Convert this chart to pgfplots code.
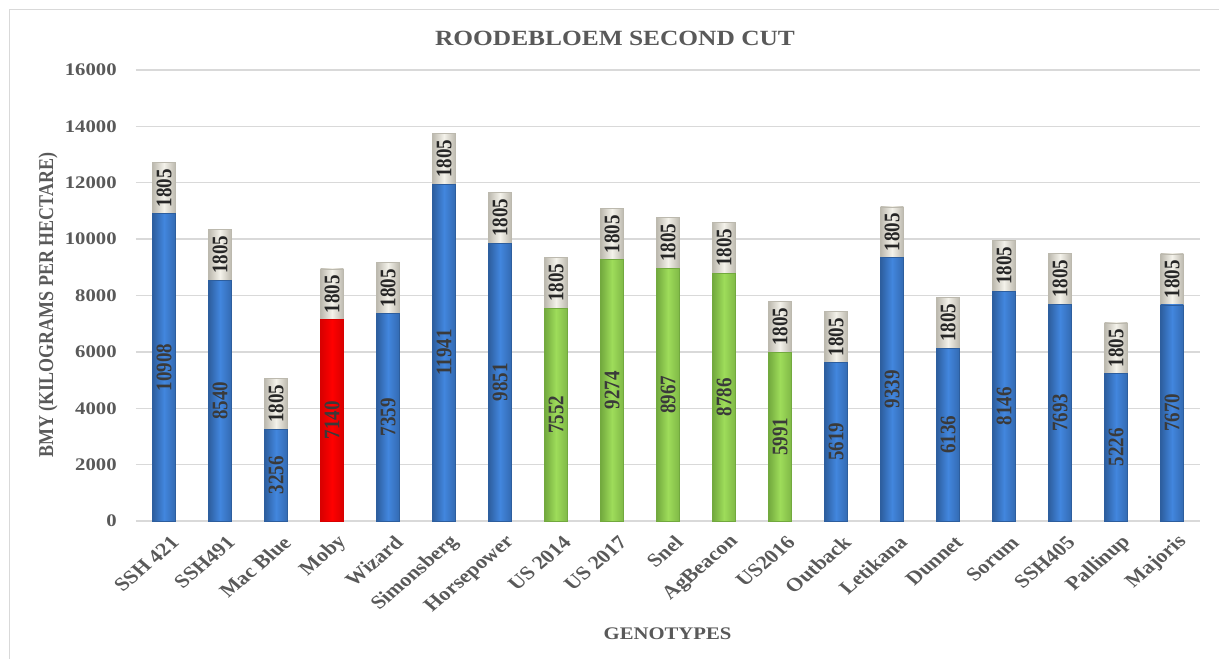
\documentclass[border=0pt]{standalone}
\usepackage{pgfplots}
\pgfplotsset{compat=1.18}
\usepackage{pgfplotstable}
\usepackage{fontspec}
\setmainfont{Liberation Serif}
\definecolor{txt}{HTML}{595959}
\definecolor{gridc}{HTML}{D9D9D9}
\definecolor{frm}{HTML}{D9D9D9}
\definecolor{bluM}{HTML}{4286DE}
\definecolor{bluE}{HTML}{2D5E9E}
\definecolor{grnM}{HTML}{9EDC5A}
\definecolor{grnE}{HTML}{72A93E}
\definecolor{redM}{HTML}{FF0000}
\definecolor{redE}{HTML}{D80000}
\definecolor{begM}{HTML}{F4F2EA}
\definecolor{begE}{HTML}{BCB9AE}
\definecolor{lab}{HTML}{3A3A3A}

\pgfplotstableread{
x v b r g t
0 10908 10908 nan nan 1805
1 8540 8540 nan nan 1805
2 3256 3256 nan nan 1805
3 7140 nan 7140 nan 1805
4 7359 7359 nan nan 1805
5 11941 11941 nan nan 1805
6 9851 9851 nan nan 1805
7 7552 nan nan 7552 1805
8 9274 nan nan 9274 1805
9 8967 nan nan 8967 1805
10 8786 nan nan 8786 1805
11 5991 nan nan 5991 1805
12 5619 5619 nan nan 1805
13 9339 9339 nan nan 1805
14 6136 6136 nan nan 1805
15 8146 8146 nan nan 1805
16 7693 7693 nan nan 1805
17 5226 5226 nan nan 1805
18 7670 7670 nan nan 1805
}\data

\begin{document}
\begin{tikzpicture}
\draw[frm, line width=1pt] (9.5pt,0pt) -- (9.5pt,649.5pt) -- (1219pt,649.5pt);
\begin{axis}[
  at={(136pt,138pt)}, anchor=south west,
  scale only axis, width=1064pt, height=451pt,
  xmin=-0.5, xmax=18.5, ymin=0, ymax=16000,
  ytick={0,2000,...,16000},
  scaled y ticks=false,
  xtick={0,...,18},
  xticklabels={SSH 421,SSH491,Mac Blue,Moby,Wizard,Simonsberg,Horsepower,US 2014,US 2017,Snel,AgBeacon,US2016,Outback,Letikana,Dunnet,Sorum,SSH405,Pallinup,Majoris},
  ymajorgrids, major grid style={gridc, line width=1.3pt},
  axis line style={draw=none},
  major tick length=0pt,
  /pgf/number format/assume math mode=true,
  /pgf/number format/1000 sep={},
  yticklabel style={font=\fontsize{17.7}{20}\selectfont\bfseries, text=txt, xscale=1.17, anchor=east, xshift=-13pt},
  xticklabel style={font=\fontsize{19}{22}\selectfont\bfseries, text=txt, xshift=14pt, yshift=-16pt, xscale=1.17, rotate=45, anchor=east},
  bar width=0.41,
  clip=false,
]
\pgfplotsinvokeforeach{0,...,18}{
\addplot[forget plot, ybar, bar shift=0pt, draw=begE, line width=0.6pt, left color=begE, right color=begE, middle color=begM, restrict expr to domain={\coordindex}{#1:#1}] table[x=x, y expr=\thisrow{v}+\thisrow{t}] {\data};
\addplot[forget plot, ybar, bar shift=0pt, draw=bluE, line width=0.6pt, left color=bluE, right color=bluE!70!bluM, middle color=bluM, restrict expr to domain={\coordindex}{#1:#1}] table[x=x, y=b] {\data};
\addplot[forget plot, ybar, bar shift=0pt, draw=redE, line width=0.6pt, left color=redE, right color=redE, middle color=redM, restrict expr to domain={\coordindex}{#1:#1}] table[x=x, y=r] {\data};
\addplot[forget plot, ybar, bar shift=0pt, draw=grnE, line width=0.6pt, left color=grnE, right color=grnE!70!grnM, middle color=grnM, restrict expr to domain={\coordindex}{#1:#1}] table[x=x, y=g] {\data};
}
\addplot[draw=none, mark=none, nodes near coords, point meta=explicit symbolic,
  every node near coord/.style={font=\fontsize{19}{20}\selectfont\bfseries, text=lab, xscale=1.17, rotate=90, anchor=center, inner sep=0pt}]
  table[x=x, y expr=\thisrow{v}/2, meta=v] {\data};
\addplot[draw=none, mark=none, nodes near coords, point meta=explicit symbolic,
  every node near coord/.style={font=\fontsize{19}{20}\selectfont\bfseries, text=black!85, xscale=1.17, rotate=90, anchor=center, inner sep=0pt}]
  table[x=x, y expr=\thisrow{v}+\thisrow{t}/2, meta=t] {\data};
\end{axis}
\node[font=\fontsize{21.7}{24}\selectfont\bfseries, text=txt, xscale=1.17] at (615pt,621pt) {ROODEBLOEM SECOND CUT};
\node[font=\fontsize{17.7}{20}\selectfont\bfseries, text=txt, xscale=1.17] at (667.5pt,25pt) {GENOTYPES};
\node[font=\fontsize{18}{20}\selectfont\bfseries, text=txt, xscale=1.17, rotate=90] at (48pt,354pt) {BMY (KILOGRAMS PER HECTARE)};
\pgfresetboundingbox
\path (0pt,0pt) rectangle (1219pt,659pt);
\end{tikzpicture}
\end{document}
